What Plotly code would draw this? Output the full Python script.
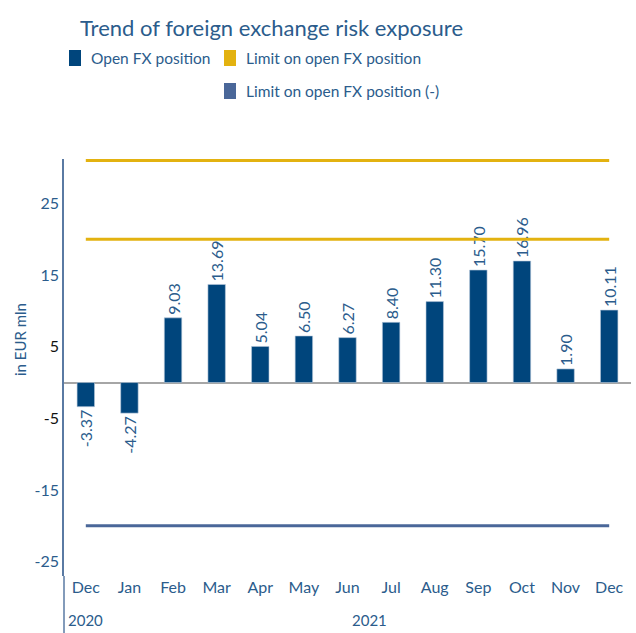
import plotly.graph_objects as go

years = ["2020"] + ["2021"] * 12
months = ["Dec", "Jan", "Feb", "Mar", "Apr", "May", "Jun", "Jul", "Aug", "Sep", "Oct", "Nov", "Dec"]
open_fx = [-3.37, -4.27, 9.03, 13.69, 5.04, 6.50, 6.27, 8.40, 11.30, 15.70, 16.96, 1.90, 10.11]
limit_pos = [20, 20, 20, 20, 20, 20, 20, 20, 20, 20, 20, 20, 20]
limit_upper = [31, 31, 31, 31, 31, 31, 31, 31, 31, 31, 31, 31, 31]
limit_neg = [-20, -20, -20, -20, -20, -20, -20, -20, -20, -20, -20, -20, -20]
y_ticks = [-25, -15, -5, 5, 15, 25]

BAR = "#00457c"
GOLD = "#e3b210"
SLATE = "#4a6799"
TXT = "#2b5c8c"
FONT = "Lato"

W, H = 636, 633
L, R, T, B = 64, 5, 159, 57
PW, PH = W - L - R, H - T - B


def fx(px):
    return (px - L) / PW


def fy(py):
    return (H - B - py) / PH


cats = [f"{m} {y}" for m, y in zip(months, years)]

fig = go.Figure()
fig.add_trace(go.Bar(
    x=cats, y=open_fx, name="Open FX position",
    marker=dict(color=BAR, line=dict(color="#b9c9dc", width=0.6)),
    width=0.4,
    text=[f"{v:.2f}" for v in open_fx], textposition="outside",
    textangle=-90, constraintext="none", cliponaxis=False,
    textfont=dict(color=TXT, size=16, family=FONT),
    showlegend=False,
))
fig.add_trace(go.Scatter(x=cats, y=limit_upper, mode="lines",
                         line=dict(color=GOLD, width=3), showlegend=False))
fig.add_trace(go.Scatter(x=cats, y=limit_pos, mode="lines",
                         line=dict(color=GOLD, width=3), showlegend=False))
fig.add_trace(go.Scatter(x=cats, y=limit_neg, mode="lines",
                         line=dict(color=SLATE, width=3), showlegend=False))

ticktext = []
for v in y_ticks:
    c = "#111111" if abs(v) == 5 else TXT
    ticktext.append(f"<span style='fill:{c};color:{c}'>{v}</span>")

shapes = [
    dict(type="line", xref="paper", yref="paper", x0=0, x1=0, y0=fy(H), y1=0,
         line=dict(color="#5a7aa3", width=1.5)),
]
legend_items = [
    (69, 58, BAR, "Open FX position"),
    (224, 58, GOLD, "Limit on open FX position"),
    (224, 91, SLATE, "Limit on open FX position (-)"),
]
annotations = [
    dict(text="Trend of foreign exchange risk exposure", x=fx(271), y=fy(28),
         xref="paper", yref="paper", showarrow=False, xanchor="center", yanchor="middle",
         font=dict(size=22, color=TXT, family=FONT)),
    dict(text="in EUR mln", x=fx(20), y=fy(340), xref="paper", yref="paper",
         showarrow=False, textangle=-90, xanchor="center", yanchor="middle",
         font=dict(size=15, color=TXT, family=FONT)),
]
for px, py, col, label in legend_items:
    shapes.append(dict(type="rect", xref="paper", yref="paper",
                       x0=fx(px), x1=fx(px + 12), y0=fy(py - 8), y1=fy(py + 8),
                       fillcolor=col, line=dict(width=0)))
    annotations.append(dict(text=label, x=fx(px + 20), y=fy(py), xref="paper", yref="paper",
                            showarrow=False, xanchor="left", yanchor="middle",
                            font=dict(size=15.5, color=TXT, family=FONT)))

# year group labels under the month labels
year_groups = {}
for i, y in enumerate(years):
    year_groups.setdefault(y, []).append(i)
for y, idx in year_groups.items():
    annotations.append(dict(text=y, x=(idx[0] + idx[-1]) / 2, y=fy(620), xref="x", yref="paper",
                            showarrow=False, xanchor="center", yanchor="middle",
                            font=dict(size=15, color=TXT, family=FONT)))

fig.update_layout(
    width=W, height=H,
    margin=dict(l=L, r=R, t=T, b=B, autoexpand=False),
    plot_bgcolor="white", paper_bgcolor="white",
    font=dict(family=FONT, color=TXT),
    shapes=shapes, annotations=annotations,
    xaxis=dict(type="category", tickvals=cats, ticktext=months, showgrid=False, showline=False,
               ticks="", tickfont=dict(size=16, color=TXT, family=FONT), zeroline=False),
    yaxis=dict(range=[-27, 31.2], tickvals=y_ticks, ticktext=ticktext, showgrid=False,
               showline=True, linecolor="#5a7aa3", linewidth=1.5,
               zeroline=True, zerolinecolor="#a6a6a6", zerolinewidth=1.5,
               ticks="", tickfont=dict(size=16, color=TXT, family=FONT)),
)
fig.write_html("out.html", post_script="document.body.style.margin='0';",
               config={"displayModeBar": False})
